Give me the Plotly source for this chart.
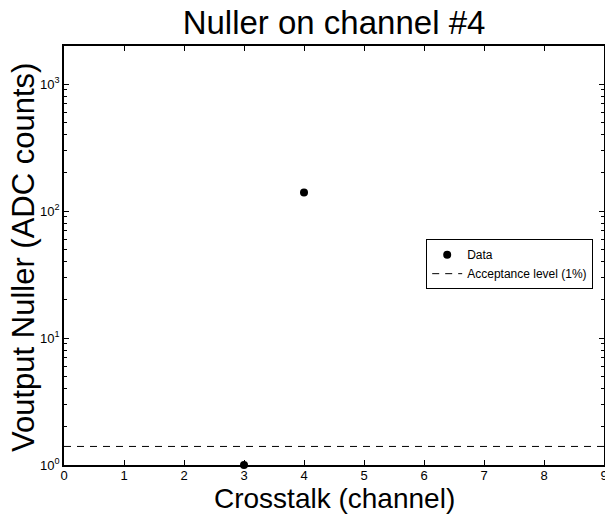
import plotly.graph_objects as go

# Data
channels = [3, 4]
voutput = [1.0, 140.0]
acceptance_x = [0, 9]
acceptance_level = [1.4, 1.4]

title_text = "Nuller on channel #4"
x_label = "Crosstalk (channel)"
y_label = "Voutput Nuller (ADC counts)"
x_ticks = list(range(0, 10))
y_ticks = [1, 10, 100, 1000]
y_tick_labels = ["10<sup>0</sup>", "10<sup>1</sup>", "10<sup>2</sup>", "10<sup>3</sup>"]

minor_vals = [k * 10 ** d for d in range(0, 4) for k in range(2, 10)]

FONT = "Liberation Sans, Arial, Helvetica, sans-serif"

W, H = 605, 514
ML, MR, MT, MB = 64, 1, 46, 49
PW, PH = W - ML - MR, H - MT - MB

fig = go.Figure()
fig.add_trace(go.Scatter(
    x=channels, y=voutput, mode="markers", name="Data",
    marker=dict(color="black", size=8, symbol="circle"),
    cliponaxis=False,
))
fig.add_trace(go.Scatter(
    x=acceptance_x, y=acceptance_level, mode="lines", name="Acceptance level (1%)",
    line=dict(color="black", width=1, dash="7px,6px"),
))

fig.update_layout(
    template="none",
    width=W, height=H,
    paper_bgcolor="white", plot_bgcolor="white",
    margin=dict(l=ML, r=MR, t=MT, b=MB),
    font=dict(family=FONT, color="black"),
    title=dict(text=title_text, x=(ML + PW / 2) / W, xanchor="center",
               y=1 - 22 / H, yanchor="middle",
               font=dict(size=33, family=FONT, color="black")),
    showlegend=True,
    legend=dict(x=0.98, xanchor="right", y=0.539, yanchor="top",
                bordercolor="black", borderwidth=1, bgcolor="white",
                font=dict(size=12, family=FONT, color="black"), tracegroupgap=0,
                itemwidth=30),
    annotations=[
        dict(text=x_label, xref="paper", yref="paper", x=0.5, y=-34 / PH,
             xanchor="center", yanchor="middle", showarrow=False,
             font=dict(size=28, family=FONT, color="black")),
        dict(text=y_label, xref="paper", yref="paper", x=-41 / PW, y=0.494,
             xanchor="center", yanchor="middle", showarrow=False, textangle=-90,
             font=dict(size=31, family=FONT, color="black")),
    ],
)

fig.update_xaxes(
    range=[0, 9], tickvals=x_ticks, ticktext=[str(t) for t in x_ticks],
    ticks="inside", ticklen=5, tickcolor="black", tickwidth=1,
    showline=True, linecolor="black", linewidth=1.5, mirror="ticks",
    showgrid=False, zeroline=False, automargin=False,
    ticklabelstandoff=-2, ticklabeloverflow="allow",
    tickfont=dict(size=13, family=FONT, color="black"),
)
fig.update_yaxes(
    type="log", range=[0, 3.30], tickvals=y_ticks, ticktext=y_tick_labels,
    ticks="inside", ticklen=5, tickcolor="black", tickwidth=1,
    showline=True, linecolor="black", linewidth=1.5, mirror="ticks",
    showgrid=False, zeroline=False, automargin=False,
    tickfont=dict(size=13, family=FONT, color="black"),
    minor=dict(tickvals=minor_vals, ticks="inside", ticklen=3, tickcolor="black", showgrid=False),
)

# Remove the browser's default 8px body margin so the figure fills the window.
fig.write_html("out.html", config={"displayModeBar": False},
               post_script="document.body.style.margin='0';")
